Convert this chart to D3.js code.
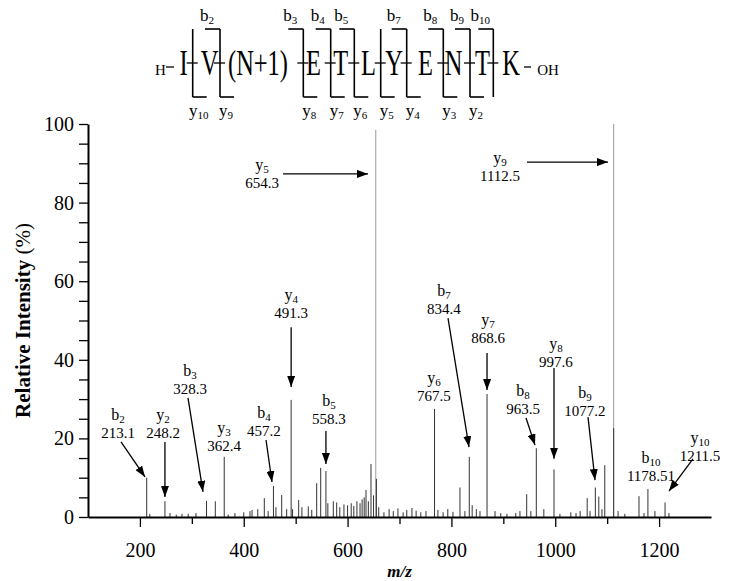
<!DOCTYPE html>
<html>
<head>
<meta charset="utf-8">
<script src="https://cdn.jsdelivr.net/npm/d3@7"></script>
<style>
body { margin: 0; background: #fff; }
svg { display: block; font-family: "Liberation Serif", "Times New Roman", serif; }
</style>
</head>
<body>
<div id="chart"></div>
<script>
// spectrum peaks (m/z, relative intensity %)
var peakMz = [213.1, 248.2, 328.3, 345.2, 362.4, 439.6, 457.2, 473.1, 482.7, 491.3,
              505.8, 524.3, 540.5, 548.2, 558.3, 572.5, 579.0, 635.5, 645.1, 654.3,
              655.5, 767.5, 816.5, 834.4, 868.6, 945.0, 963.5, 997.6, 1061.5, 1077.2,
              1083.9, 1095.4, 1112.5, 1112.5, 1161.3, 1178.5, 1211.5,
              219, 258, 270, 281, 293, 308, 370, 383, 400, 412,
              416, 427, 447, 462, 494, 512, 531, 562, 585, 593,
              600, 607, 612, 618, 624, 628, 632, 640, 650, 660,
              670, 680, 688, 697, 707, 714, 724, 732, 741, 751,
              774, 784, 793, 803, 826, 840, 848, 855, 884, 895,
              907, 924, 932, 953, 978, 1009, 1030, 1040, 1048, 1067,
              1090, 1121, 1134, 1171, 1192, 1219];
var peakInt = [10.0, 4.0, 4.1, 4.0, 15.3, 4.8, 7.9, 5.6, 2.0, 29.8,
               4.3, 2.7, 8.6, 12.5, 11.7, 4.0, 3.7, 6.9, 13.5, 98.5,
               9.7, 27.5, 7.5, 15.3, 31.3, 5.8, 17.5, 12.1, 4.8, 7.5,
               5.2, 13.2, 100, 22.6, 5.3, 7.1, 3.7,
               0.8, 1.0, 0.6, 0.8, 0.8, 1.0, 0.6, 1.0, 1.2, 1.5,
               1.8, 2.0, 1.5, 2.5, 2.0, 2.5, 1.8, 3.5, 2.5, 3.2,
               3.0, 3.5, 2.8, 4.0, 3.5, 4.5, 5.0, 4.0, 5.5, 2.5,
               1.2, 2.0, 1.5, 2.2, 1.2, 1.8, 2.3, 1.6, 1.2, 1.5,
               1.8, 1.2, 2.0, 1.3, 1.5, 3.0, 2.0, 1.5, 1.5, 1.0,
               0.8, 1.0, 1.5, 1.5, 2.0, 0.8, 1.2, 1.0, 1.5, 1.5,
               2.0, 1.5, 0.8, 1.0, 1.5, 1.0];

// annotated fragment ions
var ionType = ["b", "y", "b", "y", "b", "y", "b", "y", "y", "b", "y", "b", "y", "b", "y", "b", "y"];
var ionNum  = ["2", "2", "3", "3", "4", "4", "5", "5", "6", "7", "7", "8", "8", "9", "9", "10", "10"];
var ionMz   = ["213.1", "248.2", "328.3", "362.4", "457.2", "491.3", "558.3", "654.3", "767.5",
               "834.4", "868.6", "963.5", "997.6", "1077.2", "1112.5", "1178.51", "1211.5"];
// label block centre, in axis units
var labelAt = [[157.8, 23.7], [244.5, 23.7], [296.5, 34.9], [362, 20.4], [439, 24.2], [491.3, 54.2],
               [564.2, 27.2], [435.2, 87.3], [766.4, 33.1], [785.7, 55.2], [870.5, 47.8], [937.9, 29.8],
               [1001.4, 41.7], [1057.3, 29.3], [893.6, 89.1], [1184.4, 12.7], [1278.8, 17.8]];
// arrows, in axis units: [fromMz, fromInt, toMz, toInt]
var arrowAt = [[163.6, 19.1, 209.8, 10.2], [248.2, 19.1, 248.2, 5.1], [292.6, 30.3, 321.5, 6.4], null,
               [442.9, 19.6, 454.4, 8.9], [491.3, 48.3, 491.3, 33.1], [558.3, 21.9, 558.3, 13.5],
               [475.6, 87.3, 639.3, 87.3], null, [793.4, 50.6, 833.9, 17.8], [868.6, 41.7, 868.6, 32.3],
               [943.7, 25.2, 961.0, 18.3], [997.6, 37.9, 997.6, 14.8], [1063.1, 25.4, 1076.6, 9.4],
               [945.6, 90.3, 1101.6, 90.3], null, [1265.3, 14.8, 1219.1, 6.6]];

// peptide sequence header
var residues = ["I", "V", "(N+1)", "E", "T", "L", "Y", "E", "N", "T", "K"];
var bSeen = [2, 3, 4, 5, 7, 8, 9, 10];
var ySeen = [2, 3, 4, 5, 6, 7, 8, 9, 10];
var residueX = [183.5, 209.5, 258, 313.5, 340.7, 368.5, 394, 425.5, 453.5, 482.5, 511];
var cleaveX  = [192.7, 220, 303.3, 330.7, 354.3, 380.7, 406.7, 443.3, 470, 493.3];

var xTicks = d3.range(200, 1300, 100);
var yTicks = d3.range(0, 101, 5);

var svg = d3.select("#chart").append("svg")
    .attr("width", 729)
    .attr("height", 581);

svg.append("defs").append("marker")
    .attr("id", "head")
    .attr("markerUnits", "userSpaceOnUse")
    .attr("markerWidth", 11).attr("markerHeight", 8)
    .attr("refX", 11).attr("refY", 4)
    .attr("orient", "auto")
    .append("path").attr("d", "M0,0 L11,4 L0,8 Z").attr("fill", "#000");

var x = d3.scaleLinear().domain([100, 1300]).range([88, 711]);
var y = d3.scaleLinear().domain([0, 100]).range([517, 124]);

///////////// PEAKS /////////////
svg.append("g").selectAll("line")
    .data(peakMz.map(function(m, i) { return {mz: m, v: peakInt[i]}; }))
    .enter().append("line")
    .attr("x1", function(d) { return x(d.mz); })
    .attr("x2", function(d) { return x(d.mz); })
    .attr("y1", y(0))
    .attr("y2", function(d) { return y(d.v); })
    .attr("stroke", function(d) { return d.v > 50 ? "#9a9a9a" : "#333"; })
    .attr("stroke-width", 1);

///////////// AXES /////////////
var xAxis = svg.append("g")
    .attr("transform", "translate(0," + y(0) + ")")
    .call(d3.axisBottom(x).tickValues(xTicks).tickSize(10).tickSizeOuter(0).tickPadding(16)
        .tickFormat(function(d) { return d % 200 === 0 ? d : ""; }));
xAxis.selectAll(".tick line").attr("y2", function(d) { return d % 200 === 0 ? 10 : 7; }).attr("stroke-width", 1.3);
xAxis.select(".domain").attr("stroke-width", 2);
xAxis.selectAll("text").attr("font-size", 20).attr("font-family", "Liberation Serif");

var yAxis = svg.append("g")
    .attr("transform", "translate(" + x(100) + ",0)")
    .call(d3.axisLeft(y).tickValues(yTicks).tickSize(9).tickSizeOuter(0).tickPadding(5)
        .tickFormat(function(d) { return d % 20 === 0 ? d : ""; }));
yAxis.selectAll(".tick line").attr("stroke-width", 1.3);
yAxis.select(".domain").attr("stroke-width", 2);
yAxis.selectAll("text").attr("font-size", 20).attr("font-family", "Liberation Serif");

svg.append("text")
    .attr("transform", "translate(30," + y(50) + ") rotate(-90)")
    .attr("text-anchor", "middle")
    .attr("font-size", 21)
    .attr("font-weight", "bold")
    .text("Relative Intensity ")
    .append("tspan").attr("font-weight", "normal").text("(%)");

svg.append("text")
    .attr("x", x(700)).attr("y", 577)
    .attr("text-anchor", "middle")
    .attr("font-size", 17)
    .attr("font-weight", "bold")
    .attr("font-style", "italic")
    .text("m/z");

///////////// ANNOTATIONS /////////////
var ann = svg.append("g").selectAll("g")
    .data(ionType.map(function(t, i) { return {t: t, n: ionNum[i], mz: ionMz[i], at: labelAt[i], ar: arrowAt[i]}; }))
    .enter().append("g");

var nameText = ann.append("text")
    .attr("x", function(d) { return x(d.at[0]); })
    .attr("y", function(d) { return y(d.at[1]) - 4; })
    .attr("text-anchor", "middle")
    .attr("font-size", 16)
    .text(function(d) { return d.t; });
nameText.append("tspan")
    .attr("font-size", 11).attr("dy", 3)
    .text(function(d) { return d.n; });

ann.append("text")
    .attr("x", function(d) { return x(d.at[0]); })
    .attr("y", function(d) { return y(d.at[1]) + 14; })
    .attr("text-anchor", "middle")
    .attr("font-size", 15)
    .text(function(d) { return d.mz; });

ann.filter(function(d) { return d.ar; }).append("line")
    .attr("x1", function(d) { return x(d.ar[0]); })
    .attr("y1", function(d) { return y(d.ar[1]); })
    .attr("x2", function(d) { return x(d.ar[2]); })
    .attr("y2", function(d) { return y(d.ar[3]); })
    .attr("stroke", "#000")
    .attr("stroke-width", 1.3)
    .attr("marker-end", "url(#head)");

///////////// SEQUENCE HEADER /////////////
var head = svg.append("g");
var topY = 29, botY = 97, midY = 63, baseY = 75;

head.append("text").attr("x", 160.5).attr("y", baseY).attr("font-size", 15).attr("text-anchor", "middle").text("H");
head.append("line").attr("x1", 166).attr("x2", 174).attr("y1", 67).attr("y2", 67).attr("stroke", "#000").attr("stroke-width", 1.3);
head.append("line").attr("x1", 524).attr("x2", 531).attr("y1", 67).attr("y2", 67).attr("stroke", "#000").attr("stroke-width", 1.3);
head.append("text").attr("x", 548).attr("y", baseY).attr("font-size", 15).attr("text-anchor", "middle").text("OH");

head.selectAll("text.res")
    .data(residues)
    .enter().append("text")
    .attr("class", "res")
    .attr("transform", function(d, i) { return "translate(" + residueX[i] + "," + baseY + ") scale(0.68,1)"; })
    .attr("text-anchor", "middle")
    .attr("font-size", 36)
    .text(function(d) { return d; });

var cuts = head.selectAll("g.cut")
    .data(cleaveX.map(function(cx, i) { return {cx: cx, b: i + 1, y: 10 - i}; }))
    .enter().append("g")
    .attr("class", "cut");

cuts.append("line")
    .attr("x1", function(d) { return d.cx; }).attr("x2", function(d) { return d.cx; })
    .attr("y1", topY).attr("y2", botY)
    .attr("stroke", "#000").attr("stroke-width", 1.6);
cuts.append("line")
    .attr("x1", function(d) { return d.cx - 6; }).attr("x2", function(d) { return d.cx + 5; })
    .attr("y1", midY).attr("y2", midY)
    .attr("stroke", "#000").attr("stroke-width", 1.3);

var bCuts = cuts.filter(function(d) { return bSeen.indexOf(d.b) >= 0; });
bCuts.append("line")
    .attr("x1", function(d) { return d.cx - 15; }).attr("x2", function(d) { return d.cx; })
    .attr("y1", topY).attr("y2", topY)
    .attr("stroke", "#000").attr("stroke-width", 1.6);
bCuts.append("text")
    .attr("x", function(d) { return d.cx - 13; }).attr("y", 21)
    .attr("text-anchor", "middle").attr("font-size", 17)
    .text("b")
    .append("tspan").attr("font-size", 11).attr("dy", 3).text(function(d) { return d.b; });

var yCuts = cuts.filter(function(d) { return ySeen.indexOf(d.y) >= 0; });
yCuts.append("line")
    .attr("x1", function(d) { return d.cx; }).attr("x2", function(d) { return d.cx + 14; })
    .attr("y1", botY).attr("y2", botY)
    .attr("stroke", "#000").attr("stroke-width", 1.6);
yCuts.append("text")
    .attr("x", function(d) { return d.cx + 6; }).attr("y", 116)
    .attr("text-anchor", "middle").attr("font-size", 17)
    .text("y")
    .append("tspan").attr("font-size", 11).attr("dy", 3).text(function(d) { return d.y; });
</script>
</body>
</html>
